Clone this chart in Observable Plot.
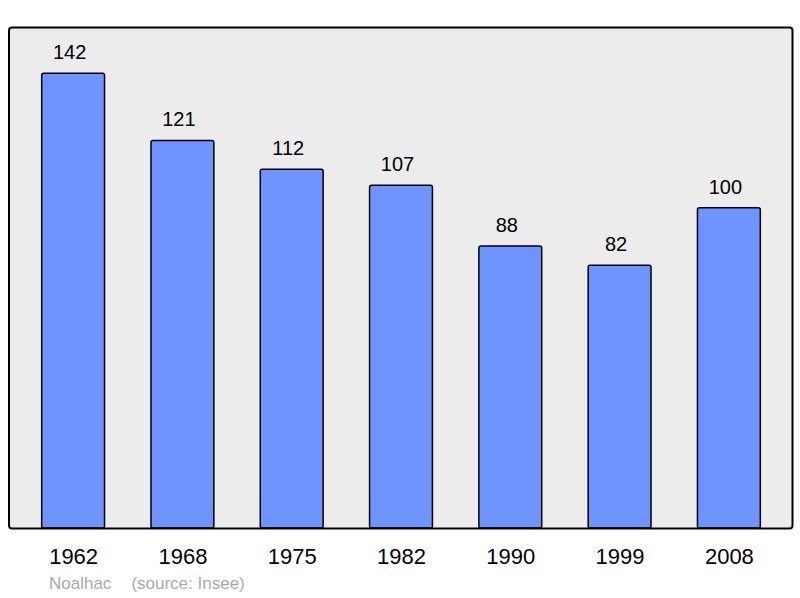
<!DOCTYPE html>
<html>
<head>
<meta charset="utf-8">
<script src="https://cdn.jsdelivr.net/npm/d3@7"></script>
<script src="https://cdn.jsdelivr.net/npm/@observablehq/plot@0.6"></script>
<style>
  html, body { margin: 0; padding: 0; background: #fff; }
  body { width: 800px; height: 598px; overflow: hidden; font-family: "Liberation Sans", Arial, sans-serif; }
  #caption { font-size: 17px; color: #aaaaaa; line-height: 18px; margin-top: 3px; padding-left: 49px; white-space: pre; }
</style>
</head>
<body>
<div id="chart"></div>
<div id="caption"><span>Noalhac</span><span style="margin-left:20px">(source: Insee)</span></div>
<script>
const years = ["1962", "1968", "1975", "1982", "1990", "1999", "2008"];
const population = [142, 121, 112, 107, 88, 82, 100];

const data = years.map((y, i) => ({year: y, value: population[i]}));

const chart = Plot.plot({
  width: 800,
  height: 572,
  marginLeft: 8.5,
  marginRight: 8,
  marginTop: 27,
  marginBottom: 44,
  style: {fontFamily: "'Liberation Sans', Arial, sans-serif", background: "#fff", overflow: "visible"},
  x: {domain: years, paddingInner: 0.425, paddingOuter: 0.29, insetLeft: 1.5, round: false, label: null},
  y: {domain: [0, 156.4], axis: null},
  marks: [
    Plot.frame({fill: "#ececec", stroke: "none"}),
    Plot.barY(data, {x: "year", y: "value", fill: "#7094ff", stroke: "#000", strokeWidth: 1.5, rx: 2}),
    Plot.text(data, {x: "year", y: "value", text: d => String(d.value), dy: -21, dx: -4, fontSize: 20, fill: "#000", lineAnchor: "middle"}),
    Plot.frame({stroke: "#000", strokeWidth: 2, rx: 3}),
    Plot.axisX({tickSize: 0, tickPadding: 20, fontSize: 22, color: "#000", label: null})
  ]
});
document.getElementById("chart").appendChild(chart);
</script>
</body>
</html>
